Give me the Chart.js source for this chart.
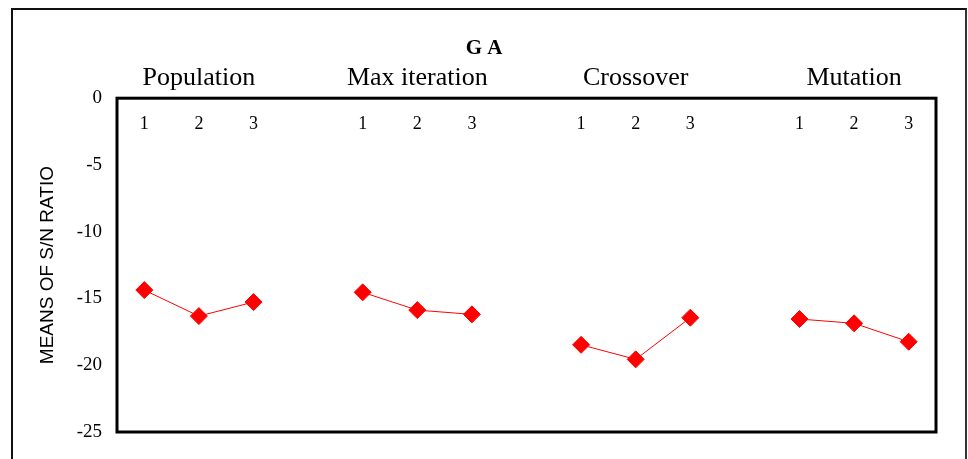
<!DOCTYPE html>
<html>
<head>
<meta charset="utf-8">
<script src="https://cdn.jsdelivr.net/npm/chart.js@4/dist/chart.umd.min.js"></script>
<style>
  body { margin: 0; background: #fff; }
  #frame { position: absolute; left: 11px; top: 8px; width: 952px; height: 470px;
           border-left: 2px solid #111; border-top: 2px solid #111; border-right: 2px solid #333; }
  #myChart { position: absolute; left: 0; top: 0; }
</style>
</head>
<body>
<div id="frame"></div>
<canvas id="myChart" width="968" height="459"></canvas>
<script>
// levels on the x axis, blank slots split the factor groups
const categories = ['1', '2', '3', '', '1', '2', '3', '', '1', '2', '3', '', '1', '2', '3'];
const factors = ['', 'Population', '', '', '', 'Max iteration', '', '', '', 'Crossover', '', '', '', 'Mutation', ''];
const snRatio = [-14.37, -16.32, -15.27, null, -14.54, -15.87, -16.19, null, -18.47, -19.56, -16.44, null, -16.54, -16.86, -18.24];
const yMin = -25, yMax = 0, yStep = 5;

// thick box round the plot area
const plotBox = {
  id: 'plotBox',
  afterDatasetsDraw(chart) {
    const a = chart.chartArea, ctx = chart.ctx;
    ctx.save();
    ctx.strokeStyle = '#000';
    ctx.lineWidth = 3;
    ctx.strokeRect(a.left, a.top, a.right - a.left, a.bottom - a.top);
    ctx.restore();
  }
};

const context = document.getElementById('myChart');
const myChart = new Chart(context, {
  type: 'line',
  data: {
    labels: categories,
    datasets: [{
      label: 'GA',
      data: snRatio,
      borderColor: '#ff0000',
      borderWidth: 1,
      backgroundColor: '#ff0000',
      pointStyle: 'rectRot',
      pointRadius: 8.5,
      pointBorderWidth: 1,
      pointBackgroundColor: '#ff0000',
      pointBorderColor: '#ff0000',
      spanGaps: false,
      xAxisID: 'x',
      yAxisID: 'y'
    }]
  },
  options: {
    responsive: false,
    devicePixelRatio: 1,
    animation: false,
    layout: { padding: { left: 0, right: 0, top: 0, bottom: 27 } },
    plugins: {
      legend: { display: false },
      tooltip: { enabled: false },
      title: {
        display: true,
        text: 'G A',
        color: '#000',
        font: { family: 'Liberation Serif', size: 21, weight: 'bold' },
        padding: { top: 36, bottom: 0 }
      }
    },
    scales: {
      x: {
        position: 'top',
        offset: true,
        weight: 0,
        grid: { display: false, drawTicks: false },
        border: { display: false },
        ticks: {
          autoSkip: false, maxRotation: 0, mirror: true, padding: 15,
          color: '#000',
          font: { family: 'Liberation Serif', size: 18 }
        },
        afterFit(scale) { scale.height = 0; }
      },
      x2: {
        type: 'category',
        labels: factors,
        position: 'top',
        offset: true,
        weight: 1,
        grid: { display: false, drawTicks: false },
        border: { display: false },
        ticks: {
          autoSkip: false, maxRotation: 0, padding: 4,
          color: '#000',
          font: { family: 'Liberation Serif', size: 26 }
        },
        afterFit(scale) { scale.height = 37; }
      },
      y: {
        min: yMin,
        max: yMax,
        grid: { display: false, drawTicks: false },
        border: { display: false },
        ticks: {
          stepSize: yStep,
          padding: 15,
          color: '#000',
          font: { family: 'Liberation Serif', size: 19 }
        },
        title: {
          display: true,
          text: 'MEANS OF S/N RATIO',
          color: '#000',
          font: { family: 'Liberation Sans', size: 19 },
          padding: { top: 36, bottom: 0 }
        },
        afterFit(scale) { scale.width = 117; }
      },
      // empty right strip so the plot ends where the reference does
      yRight: {
        position: 'right',
        min: yMin,
        max: yMax,
        grid: { display: false, drawTicks: false },
        border: { display: false },
        ticks: { display: false },
        afterFit(scale) { scale.width = 32; }
      }
    }
  },
  plugins: [plotBox]
});
</script>
</body>
</html>
